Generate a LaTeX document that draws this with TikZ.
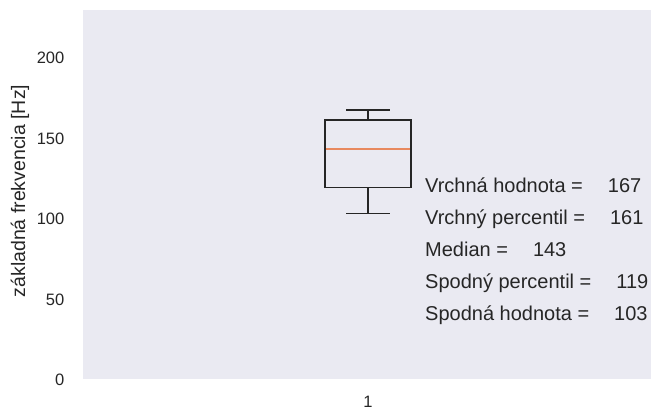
\documentclass[tikz,border=0pt]{standalone}
\usepackage{fontspec}
\setmainfont{Liberation Sans}
\definecolor{axbg}{HTML}{EAEAF2}
\definecolor{txt}{HTML}{262626}
\definecolor{med}{HTML}{E8895F}
\begin{document}
\begin{tikzpicture}[x=1pt,y=-1pt,
  tick/.style={text=txt,font=\fontsize{16.5}{18}\selectfont,inner sep=0pt},
  info/.style={text=txt,font=\fontsize{20}{22}\selectfont,anchor=base west,inner sep=0pt},
  boxline/.style={draw=black!85,line width=1.4pt}]
\useasboundingbox (0,0) rectangle (651,410);
\fill[axbg] (83,10) rectangle (651,379);
% y ticks
\node[tick,anchor=east] (t200) at (64.5,58) {200};
\node[tick,anchor=east] (t150) at (64.5,138.5) {150};
\node[tick,anchor=east] (t100) at (64.5,219) {100};
\node[tick,anchor=east] (t50) at (64.5,299.5) {50};
\node[tick,anchor=east] (t0) at (64.5,380) {0};
\node[tick,anchor=base] (x1) at (368,407) {1};
\node[text=txt,font=\fontsize{19.5}{21}\selectfont,rotate=90,inner sep=0pt] (ylab) at (20,191) {základná frekvencia [Hz]};
% box plot (px per Hz = 1.61, zero at 379)
\coordinate (capT) at (368,110);
\coordinate (boxT) at (368,119.8);
\coordinate (boxB) at (368,187.4);
\coordinate (capB) at (368,213.2);
\draw[boxline] (325,119.8) rectangle (411,187.4);
\draw[boxline] (boxT) -- (capT);
\draw[boxline] (346,110) -- (390,110);
\draw[boxline] (boxB) -- (capB);
\draw[boxline] (346,213.2) -- (390,213.2);
\draw[med,line width=1.4pt] (326,148.8) -- (410,148.8);
% info text
\node[info] (l1) at (425,192) {Vrchná hodnota =\hspace{1.25em}167};
\node[info] (l2) at (425,224) {Vrchný percentil =\hspace{1.25em}161};
\node[info] (l3) at (425,256) {Median =\hspace{1.25em}143};
\node[info] (l4) at (425,288) {Spodný percentil =\hspace{1.25em}119};
\node[info] (l5) at (425,320) {Spodná hodnota =\hspace{1.25em}103};
\end{tikzpicture}
\end{document}
